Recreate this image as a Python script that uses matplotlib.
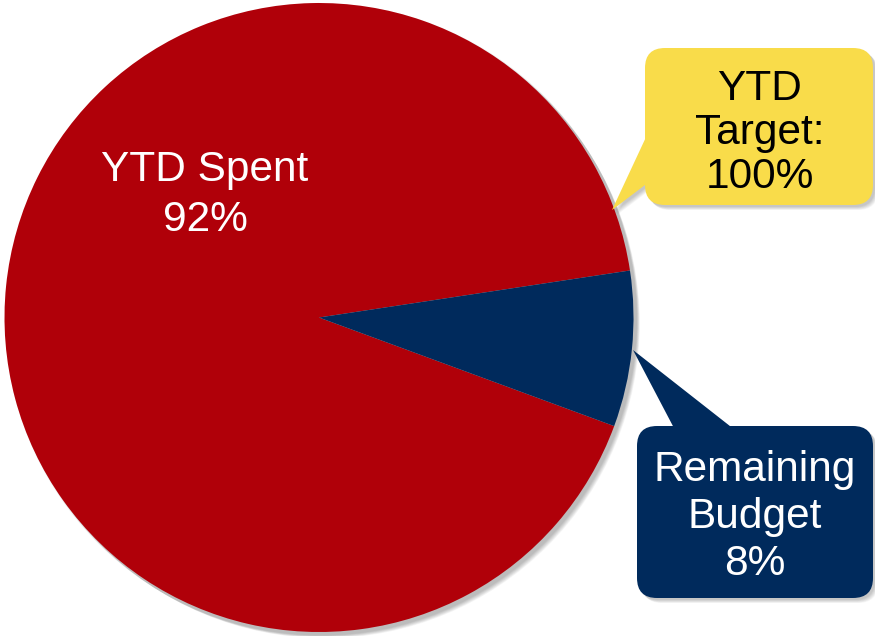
import matplotlib
matplotlib.use("Agg")
import matplotlib.pyplot as plt
from matplotlib.patches import FancyBboxPatch, Polygon, Circle

# Budget split
categories = ["YTD Spent", "Remaining Budget"]
shares = [92, 8]
target_label = "YTD Target:"
target_value = 100

RED = "#B00009"
NAVY = "#002A5C"
YELLOW = "#F9DC4A"

W, H = 875, 636
plt.rcParams["font.family"] = ["Liberation Sans", "DejaVu Sans"]

fig = plt.figure(figsize=(W / 100, H / 100), dpi=100)
ax = fig.add_axes([0, 0, 1, 1])


def Y(y):
    # convert top-down pixel rows to axis units
    return H - y


cx, cy, r = 319, Y(317.5), 314.5

# soft drop shadow behind the pie
for i in range(8):
    ax.add_patch(Circle((cx + 2 + i * 0.6, cy - 2 - i * 0.6), r + 1.5 - i * 0.2,
                        facecolor="black", edgecolor="none", alpha=0.035, zorder=1))

ax.pie(shares, colors=[RED, NAVY], startangle=8.6, counterclock=True,
       center=(cx, cy), radius=r, wedgeprops=dict(linewidth=0, zorder=2),
       frame=True)
ax.set_xlim(0, W)
ax.set_ylim(0, H)
ax.set_aspect("equal")
ax.axis("off")

ax.text(205, Y(195), f"{categories[0]}\n{shares[0]}%", color="white",
        fontsize=30.5, ha="center", va="center", linespacing=1.3, zorder=5)


def callout(x0, y0, x1, y1, pointer, color, zorder=6):
    w, h = x1 - x0, y1 - y0
    # shadow
    for i in range(6):
        ax.add_patch(FancyBboxPatch((x0 + 2 + i * 0.6, Y(y1) - 2 - i * 0.6), w, h,
                                    boxstyle="round,pad=0,rounding_size=20",
                                    facecolor="black", edgecolor="none",
                                    alpha=0.04, zorder=zorder - 1))
        ax.add_patch(Polygon([(px + 2 + i * 0.6, Y(py) - 2 - i * 0.6) for px, py in pointer],
                             closed=True, facecolor="black", edgecolor="none",
                             alpha=0.04, zorder=zorder - 1))
    ax.add_patch(FancyBboxPatch((x0, Y(y1)), w, h,
                                boxstyle="round,pad=0,rounding_size=20",
                                facecolor=color, edgecolor="none", zorder=zorder))
    ax.add_patch(Polygon([(px, Y(py)) for px, py in pointer], closed=True,
                         facecolor=color, edgecolor="none", zorder=zorder))


callout(645, 48, 873, 205, [(612, 210), (647, 135), (649, 182)], YELLOW)
target_text = target_label.replace(" ", "\n")
ax.text(760, Y(133), f"{target_text}\n{target_value}%", color="black",
        fontsize=30.5, ha="center", va="center", linespacing=1.12, zorder=8)

callout(637, 426, 873, 598, [(633, 350), (675, 430), (735, 430)], NAVY)
label = categories[1].replace(" ", "\n")
ax.text(755, Y(517), f"{label}\n{shares[1]}%", color="white",
        fontsize=30.5, ha="center", va="center", linespacing=1.23, zorder=8)

fig.savefig("out.png", dpi=100, facecolor="white")
